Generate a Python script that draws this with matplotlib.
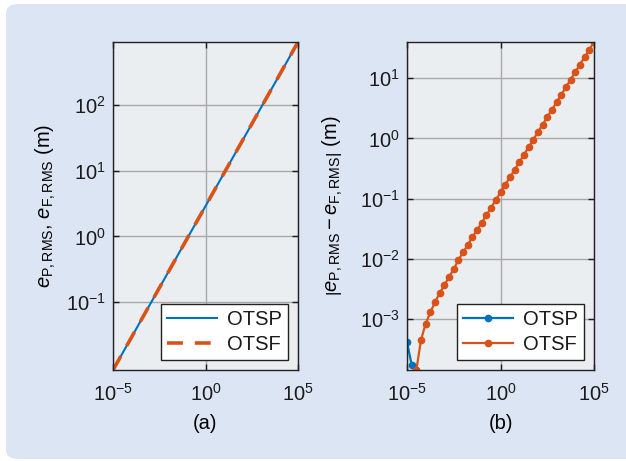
import matplotlib
matplotlib.use("Agg")
import matplotlib.pyplot as plt
from matplotlib.patches import FancyBboxPatch

# (a) RMS error of both filters vs. noise variance (lines overlap)
x_a = [1e-5, 1e-4, 1e-3, 1e-2, 1e-1, 1e0, 1e1, 1e2, 1e3, 1e4, 1e5]
otsp_a = [0.0092, 0.029, 0.092, 0.29, 0.92, 2.9, 9.2, 29, 92, 290, 920]
otsf_a = [0.0092, 0.029, 0.092, 0.29, 0.92, 2.9, 9.2, 29, 92, 290, 920]

# (b) absolute difference, quarter-decade steps
x_b = [10 ** (-5 + 0.25 * i) for i in range(41)]
otsp_b = [4.15e-4, 1.72e-4, 1.42e-4]
otsf_b = [1.42e-4, 4.5e-4, 8.4e-4, 1.29e-3, 1.92e-3, 2.66e-3, 3.67e-3, 4.99e-3,
          6.77e-3, 9.55e-3, 1.28e-2, 1.7e-2, 2.3e-2, 3.0e-2, 4.0e-2, 5.35e-2,
          7.1e-2, 9.5e-2, 0.127, 0.169, 0.226, 0.30, 0.40, 0.535, 0.71, 0.95,
          1.27, 1.69, 2.26, 3.0, 4.0, 5.35, 7.1, 9.5, 12.7, 16.9, 22.6, 30, 40]

xticks = [1e-5, 1e0, 1e5]
yticks_a = [1e-1, 1e0, 1e1, 1e2]
yticks_b = [1e-3, 1e-2, 1e-1, 1e0, 1e1]

plt.rcParams['font.family'] = ['Liberation Sans', 'DejaVu Sans']
plt.rcParams['mathtext.fontset'] = 'custom'
plt.rcParams['mathtext.rm'] = 'Liberation Sans'
plt.rcParams['mathtext.it'] = 'Liberation Sans:italic'
plt.rcParams['mathtext.bf'] = 'Liberation Sans:bold'
plt.rcParams['font.size'] = 14.5
plt.rcParams['text.color'] = '#1a1a1a'
plt.rcParams['xtick.color'] = '#1a1a1a'
plt.rcParams['ytick.color'] = '#1a1a1a'

blue = '#0072bd'
red = '#d95319'

fig = plt.figure(figsize=(6.26, 4.61), dpi=100)
fig.patch.set_facecolor('white')
bg = FancyBboxPatch((6 / 626, 2 / 461), 640 / 626, 455 / 461,
                    boxstyle="round,pad=0,rounding_size=0.02",
                    transform=fig.transFigure, facecolor='#dbe5f4',
                    edgecolor='none', zorder=-10)
fig.patches.append(bg)

ax1 = fig.add_axes([113 / 626, 1 - 370 / 461, 185 / 626, 328 / 461])
ax2 = fig.add_axes([407 / 626, 1 - 370 / 461, 187 / 626, 328 / 461])

for ax in (ax1, ax2):
    ax.set_xscale('log')
    ax.set_yscale('log')

ax1.plot(x_a, otsp_a, color=blue, lw=1.5, label='OTSP')
ax1.plot(x_a, otsf_a, color=red, lw=2.6, ls=(0, (4.4, 3.3)), label='OTSF')
ax1.set_ylim(min(otsp_a), max(otsp_a))
ax1.set_yticks(yticks_a)
ax1.set_ylabel(r'$e_{\mathrm{P,RMS}}$, $e_{\mathrm{F,RMS}}$ (m)', labelpad=6)
ax1.set_xlabel('(a)', labelpad=7)

ax2.plot(x_b[:3], otsp_b, color=blue, lw=1.6, marker='o', ms=4.5, label='OTSP')
ax2.plot(x_b[2:], otsf_b, color=red, lw=1.6, marker='o', ms=4.5, label='OTSF')
ax2.set_ylim(min(otsf_b), max(otsf_b))
ax2.set_yticks(yticks_b)
ax2.set_ylabel(r'$\left|e_{\mathrm{P,RMS}} - e_{\mathrm{F,RMS}}\right|$ (m)', labelpad=11)
ax2.set_xlabel('(b)', labelpad=7)

for ax in (ax1, ax2):
    ax.set_xlim(1e-5, 1e5)
    ax.set_xticks(xticks)
    ax.minorticks_off()
    ax.set_facecolor('#ebeef0')
    ax.grid(True, color='#a8a8a8', lw=1)
    ax.set_axisbelow(True)
    ax.tick_params(direction='in', top=True, right=True, length=4, width=1,
                   pad=5, labelsize=14.5)
    ax.tick_params(axis='x', pad=9)
    for s in ax.spines.values():
        s.set_linewidth(1.0)
        s.set_color('#222222')
    leg = ax.legend(loc='lower right', fancybox=False, framealpha=1,
                    edgecolor='#222222', handlelength=2.5, handletextpad=0.5,
                    labelspacing=0.3, borderpad=0.3, fontsize=14.5)
    leg.get_frame().set_linewidth(1.0)

plt.savefig('out.png', dpi=100)
